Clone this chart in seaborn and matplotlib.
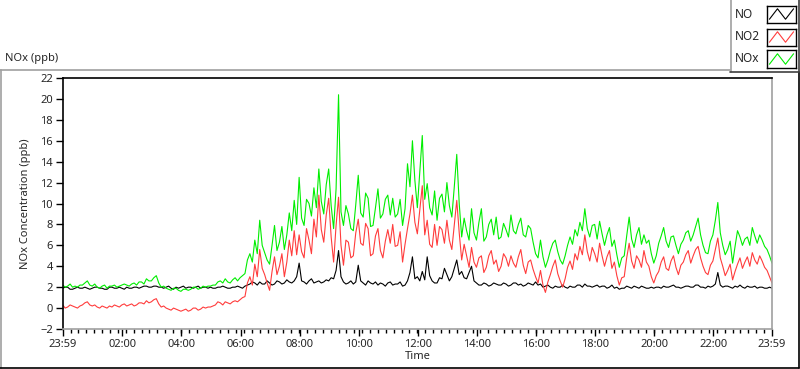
import matplotlib
matplotlib.use("Agg")
import matplotlib.pyplot as plt
from matplotlib.lines import Line2D
import seaborn as sns
import pandas as pd

# concentrations (ppb) every 5 minutes, 23:59 -> 23:59 next day (one row per hour)
no = [1.9, 2.0, 2.0, 1.8, 1.8, 1.9, 2.0, 1.9, 1.9, 2.0, 1.9, 1.8,
      1.9, 2.0, 2.0, 1.9, 1.9, 1.8, 1.8, 2.0, 2.0, 1.9, 1.9, 2.0,
      1.9, 1.8, 2.0, 1.9, 1.9, 2.0, 2.0, 1.9, 2.0, 2.1, 2.1, 2.0,
      2.0, 2.1, 2.1, 2.0, 2.0, 1.9, 2.0, 2.1, 1.9, 1.8, 2.0, 1.9,
      2.0, 2.1, 1.9, 2.0, 2.0, 1.9, 2.0, 2.1, 1.9, 2.0, 2.0, 1.9,
      2.0, 1.9, 1.9, 2.0, 2.0, 2.1, 2.0, 1.9, 1.9, 2.0, 2.0, 2.1,
      2.0, 1.9, 2.1, 2.2, 2.3, 2.5, 2.4, 2.2, 2.5, 2.3, 2.3, 2.6,
      2.4, 2.2, 2.3, 2.6, 2.5, 2.3, 2.4, 2.7, 2.5, 2.4, 2.6, 3.0,
      4.3, 2.6, 2.5, 2.3, 2.6, 2.8, 2.4, 2.5, 2.6, 2.4, 2.5, 2.7,
      2.6, 2.9, 2.8, 3.6, 5.5, 3.0, 2.5, 2.3, 2.4, 2.6, 2.3, 2.5,
      4.1, 2.6, 2.4, 2.2, 2.6, 2.4, 2.3, 2.5, 2.2, 2.4, 2.3, 2.1,
      2.4, 2.5, 2.2, 2.3, 2.3, 2.5, 2.1, 2.2, 2.6, 3.4, 4.9, 2.8,
      3.0, 2.6, 3.5, 2.7, 4.9, 3.1, 2.6, 2.4, 2.4, 2.9, 2.8, 3.8,
      3.2, 2.6, 3.0, 3.8, 4.6, 3.2, 3.5, 2.9, 2.8, 3.4, 4.0, 2.6,
      2.4, 2.2, 2.2, 2.4, 2.3, 2.1, 2.2, 2.4, 2.3, 2.2, 2.2, 2.4,
      2.3, 2.1, 2.2, 2.4, 2.4, 2.2, 2.3, 2.1, 2.2, 2.4, 2.3, 2.2,
      2.5, 2.2, 2.3, 2.0, 2.1, 2.2, 2.0, 1.9, 2.1, 2.0, 2.0, 2.2,
      2.0, 1.9, 2.1, 2.0, 2.0, 2.2, 2.2, 2.0, 2.3, 2.1, 2.1, 2.0,
      2.1, 2.2, 2.0, 2.1, 2.1, 1.9, 2.0, 2.2, 1.9, 2.0, 1.8, 1.9,
      1.9, 2.1, 2.0, 1.9, 2.1, 2.0, 1.9, 2.1, 2.0, 1.9, 1.9, 2.0,
      1.9, 2.0, 2.0, 1.9, 2.1, 2.0, 2.0, 2.1, 2.2, 2.0, 2.0, 1.9,
      2.0, 2.1, 2.1, 2.0, 2.0, 2.2, 2.2, 2.0, 2.0, 1.9, 2.1, 2.0,
      2.1, 2.3, 3.4, 2.2, 2.0, 2.1, 2.1, 2.0, 1.9, 2.1, 2.0, 2.2,
      2.0, 1.9, 2.1, 2.0, 2.0, 2.1, 1.9, 2.0, 2.0, 1.9, 1.9, 2.0,
      1.9]
no2 = [0.3, 0.0, 0.1, 0.3, 0.2, 0.1, 0.0, 0.2, 0.3, 0.5, 0.6, 0.3,
       0.2, 0.3, 0.1, 0.0, 0.2, 0.1, 0.0, 0.2, 0.1, 0.3, 0.2, 0.1,
       0.3, 0.4, 0.2, 0.3, 0.4, 0.2, 0.3, 0.5, 0.5, 0.4, 0.7, 0.5,
       0.6, 0.8, 0.9, 0.4, 0.1, 0.2, 0.0, -0.1, -0.2, 0.0, -0.1, -0.2,
       -0.3, -0.2, -0.1, -0.3, -0.2, 0.0, 0.0, -0.2, -0.1, 0.1, 0.0, 0.1,
       0.1, 0.2, 0.3, 0.6, 0.5, 0.3, 0.6, 0.5, 0.4, 0.6, 0.7, 0.6,
       0.8, 1.0, 1.1, 2.4, 3.0, 2.2, 4.2, 3.0, 5.6, 3.8, 3.2, 2.4,
       1.7, 3.5, 4.9, 3.2, 4.0, 5.2, 3.0, 4.4, 6.5, 5.0, 7.4, 5.1,
       7.0, 5.4, 4.8, 7.6, 6.5, 5.2, 8.5, 6.8, 10.8, 7.5, 6.3, 8.9,
       10.5, 6.8, 4.4, 7.9, 10.6, 6.0, 4.1, 6.5, 6.3, 4.8, 5.0, 7.2,
       8.5, 6.2, 6.0, 8.1, 7.6, 5.0, 5.2, 6.9, 7.6, 5.5, 4.8, 6.4,
       7.5, 6.2, 8.0, 5.9, 6.0, 7.3, 4.4, 6.1, 7.6, 9.0, 10.8, 8.2,
       7.1, 9.4, 11.7, 7.0, 8.4, 6.1, 5.8, 8.0, 6.0, 7.8, 7.5, 6.2,
       8.4, 6.5, 5.6, 8.0, 10.3, 7.2, 4.6, 6.1, 5.0, 3.9, 5.8, 4.4,
       3.9, 4.8, 5.0, 3.4, 3.9, 5.0, 5.5, 4.2, 4.6, 3.5, 4.0, 5.2,
       4.8, 4.0, 5.0, 4.3, 3.9, 4.9, 5.6, 4.1, 3.3, 4.4, 4.6, 3.7,
       3.0, 2.4, 3.6, 2.2, 1.5, 2.5, 3.2, 4.0, 4.6, 3.3, 2.6, 2.0,
       2.8, 3.9, 4.5, 3.7, 5.2, 4.6, 5.9, 5.1, 7.0, 5.4, 4.5, 5.8,
       5.2, 4.4, 6.2, 5.0, 4.0, 4.9, 5.5, 3.8, 4.4, 3.1, 2.2, 2.9,
       3.0, 4.8, 6.2, 4.5, 3.8, 5.0, 4.6, 3.9, 5.5, 4.4, 4.0, 3.0,
       2.4, 3.1, 3.5, 4.4, 4.9, 3.8, 3.6, 4.5, 5.0, 3.9, 3.2, 4.1,
       4.4, 5.1, 5.5, 4.3, 5.0, 5.6, 5.9, 4.8, 4.0, 3.4, 3.2, 4.1,
       4.5, 5.6, 6.7, 4.8, 4.0, 3.1, 3.6, 4.2, 2.7, 3.5, 4.2, 4.8,
       3.8, 4.4, 4.9, 4.0, 5.3, 4.6, 4.2, 5.0, 4.5, 3.9, 3.6, 3.0,
       2.4]
nox = [2.2, 2.0, 2.1, 2.3, 2.0, 2.1, 2.0, 2.2, 2.2, 2.4, 2.6, 2.2,
       2.1, 2.3, 2.0, 1.9, 2.1, 2.2, 1.9, 2.1, 2.1, 2.2, 2.0, 2.1,
       2.2, 2.3, 2.2, 2.1, 2.3, 2.4, 2.2, 2.5, 2.5, 2.3, 2.8, 2.6,
       2.6, 2.9, 3.1, 2.4, 2.0, 2.1, 1.9, 1.8, 1.7, 1.9, 1.9, 1.7,
       1.6, 1.8, 1.8, 1.7, 1.8, 2.0, 2.0, 1.8, 1.9, 2.1, 2.0, 2.1,
       2.1, 2.2, 2.2, 2.5, 2.6, 2.4, 2.8, 2.5, 2.4, 2.7, 2.9, 2.6,
       2.9, 3.1, 3.3, 4.6, 5.2, 4.4, 6.5, 5.2, 8.4, 6.0, 5.3, 4.6,
       4.2, 6.0, 7.9, 5.5, 6.3, 7.8, 5.6, 7.0, 9.1, 7.4, 10.3, 8.0,
       12.5, 8.6, 7.9, 10.4, 10.0, 8.8, 11.5, 9.6, 13.3, 10.2, 9.0, 11.8,
       13.3, 9.8, 7.6, 11.4, 20.4, 9.2, 7.9, 9.8, 9.0, 7.6, 7.4, 9.9,
       12.7, 9.1, 8.7, 11.0, 10.5, 7.8, 7.9, 9.6, 11.4, 8.6, 9.0, 10.4,
       10.8, 8.9, 10.5, 8.7, 9.0, 10.4, 7.9, 9.5, 13.8, 11.6, 16.0, 12.2,
       9.6, 13.0, 16.5, 10.4, 11.9, 9.6, 8.9, 11.2, 8.4, 10.5, 10.9, 9.2,
       12.0, 9.8, 8.7, 11.6, 14.7, 10.0, 6.8, 8.6, 7.4, 6.5, 9.5, 7.2,
       6.5, 8.2, 9.5, 6.4, 6.8, 8.0, 8.5, 7.0, 8.7, 6.6, 6.8, 8.1,
       7.5, 6.8, 8.9, 7.4, 7.1, 8.0, 8.6, 7.0, 6.8, 7.9, 7.6, 6.3,
       5.2, 4.8, 6.5, 4.9, 3.9, 4.6, 5.5, 6.2, 6.5, 5.4, 4.6, 4.2,
       5.0, 6.0, 6.8, 6.1, 7.5, 6.9, 8.2, 7.4, 9.5, 7.6, 6.8, 7.9,
       8.0, 6.6, 8.3, 7.1, 6.0, 7.0, 7.7, 5.9, 6.5, 5.1, 3.9, 4.8,
       5.0, 6.9, 8.7, 6.6, 5.8, 7.0, 7.7, 6.1, 7.0, 6.2, 6.5, 5.2,
       4.3, 5.0, 6.2, 6.9, 7.7, 6.4, 5.8, 6.8, 6.9, 6.0, 5.2, 6.1,
       6.5, 7.2, 7.4, 6.4, 7.0, 7.8, 8.6, 7.0, 6.0, 5.3, 5.2, 6.4,
       7.0, 8.4, 10.1, 7.2, 6.0, 5.1, 5.6, 6.4, 4.3, 5.9, 7.4, 6.8,
       6.0, 6.6, 6.8, 6.0, 7.7, 6.9, 6.2, 7.0, 6.5, 5.9, 5.6, 5.0,
       4.3]

series = ["NO", "NO2", "NOx"]
colors = ["#000000", "#ff3c3c", "#00ee00"]
tick_labels = ["23:59", "02:00", "04:00", "06:00", "08:00", "10:00", "12:00",
               "14:00", "16:00", "18:00", "20:00", "22:00", "23:59"]
yticks = list(range(-2, 23, 2))

start = pd.Timestamp("2000-01-01 23:59")
end = pd.Timestamp("2000-01-02 23:59")
times = pd.date_range(start, periods=len(no), freq="5min")
df = pd.DataFrame({"Time": list(times) * 3,
                   "value": no + no2 + nox,
                   "species": ["NO"] * len(no) + ["NO2"] * len(no2) + ["NOx"] * len(nox)})

sns.set_style("ticks")
plt.rcParams["font.family"] = ["Noto Sans", "DejaVu Sans"]

W, H = 800, 369
fig = plt.figure(figsize=(W / 100, H / 100), dpi=100)
fig.patch.set_facecolor("white")


def fx(x):
    return x / W


def fy(y):
    return 1 - y / H


ax = fig.add_axes([fx(62.7), fy(329), (772 - 62.7) / W, (329 - 78) / H])
sns.lineplot(data=df, x="Time", y="value", hue="species", hue_order=series,
             palette=colors, linewidth=0.8, legend=False, ax=ax)

ax.set_xlim(start, end)
ax.set_ylim(-2, 22)
ax.set_yticks(yticks)
major = [start] + [pd.Timestamp("2000-01-02") + pd.Timedelta(hours=h) for h in range(2, 24, 2)] + [end]
ax.set_xticks(major)
ax.set_xticklabels(tick_labels)
ax.set_xticks(pd.date_range(start, end, freq="16min"), minor=True)
ax.tick_params(axis="both", which="major", labelsize=8, length=5, width=1,
               color="black", pad=2)
ax.tick_params(axis="x", which="minor", length=3, width=1, color="black")
for s in ["left", "top"]:
    ax.spines[s].set_visible(True)
    ax.spines[s].set_color("black")
    ax.spines[s].set_linewidth(1.2)
for s in ["right", "bottom"]:
    ax.spines[s].set_visible(True)
    ax.spines[s].set_color("#a0a0a0")
    ax.spines[s].set_linewidth(1.2)
ax.set_xlabel("Time", fontsize=8, labelpad=1)
ax.set_ylabel("NOx Concentration (ppb)", fontsize=8, labelpad=7)

fig.text(fx(5), fy(59), "NOx (ppb)", fontsize=8, va="center", ha="left")

# panel frame
fig.add_artist(Line2D([fx(0), fx(730)], [fy(69.5), fy(69.5)], color="#a0a0a0", lw=1.2))
fig.add_artist(Line2D([fx(0.5), fx(0.5)], [fy(69.5), fy(368)], color="#a0a0a0", lw=1.2))
fig.add_artist(Line2D([fx(0), fx(799)], [fy(367.5), fy(367.5)], color="black", lw=1.2))
fig.add_artist(Line2D([fx(798.5), fx(798.5)], [fy(72), fy(368)], color="black", lw=1.2))

# legend box
fig.add_artist(Line2D([fx(730.5), fx(730.5)], [fy(0), fy(72)], color="#a0a0a0", lw=1.2))
fig.add_artist(Line2D([fx(730), fx(799)], [fy(72), fy(72)], color="#404040", lw=1.2))
fig.add_artist(Line2D([fx(799), fx(799)], [fy(0), fy(72)], color="#404040", lw=1.2))
for name, col, yc in zip(series, colors, [14, 37, 59]):
    fig.text(fx(735), fy(yc), name, fontsize=8.5, va="center", ha="left")
    lax = fig.add_axes([fx(767), fy(yc + 8.5), 29 / W, 17 / H])
    lax.plot([0, 1, 2, 3], [0.1, 0.9, 0.1, 0.9], color=col, lw=0.8)
    lax.set_xlim(-0.3, 3.3)
    lax.set_ylim(-0.15, 1.15)
    lax.set_xticks([])
    lax.set_yticks([])
    for s in lax.spines.values():
        s.set_visible(True)
        s.set_color("black")
        s.set_linewidth(1)

fig.savefig("out.png", dpi=100, facecolor="white")
